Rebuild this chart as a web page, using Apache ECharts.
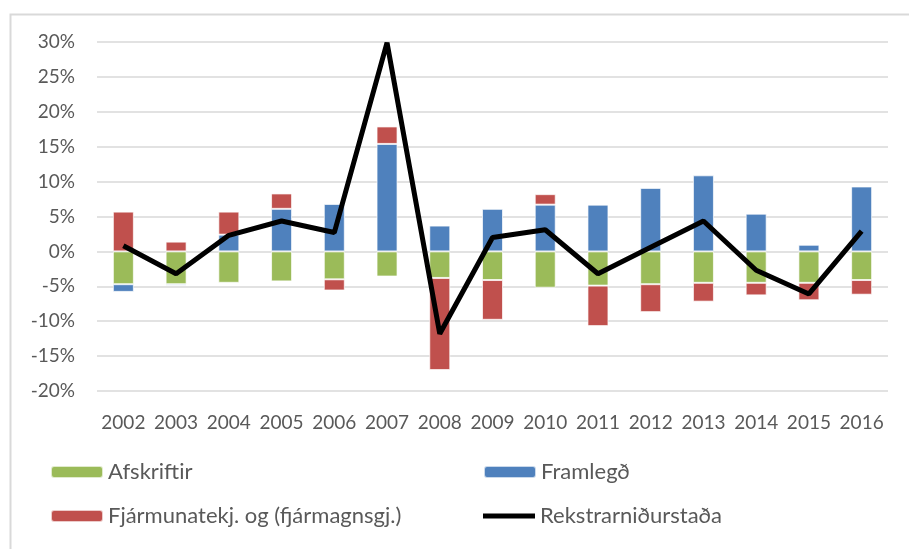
<!DOCTYPE html>
<html>
<head>
<meta charset="utf-8">
<script src="https://cdn.jsdelivr.net/npm/echarts@6/dist/echarts.min.js"></script>
<style>
  html, body { margin: 0; padding: 0; background: #fff; }
  #main { width: 909px; height: 549px; }
</style>
</head>
<body>
<div id="main"></div>
<script>
// data (percent)
var years = ['2002', '2003', '2004', '2005', '2006', '2007', '2008', '2009',
             '2010', '2011', '2012', '2013', '2014', '2015', '2016'];
var afskriftir = [-4.7, -4.7, -4.5, -4.3, -4.0, -3.6, -3.8, -4.1, -5.2, -4.9, -4.7, -4.5, -4.5, -4.5, -4.1];
var framlegd = [-1.1, -0.2, 2.4, 6.1, 6.8, 15.4, 3.7, 6.1, 6.7, 6.7, 9.1, 10.9, 5.4, 0.95, 9.3];
var fjarmuna = [5.7, 1.4, 3.3, 2.2, -1.6, 2.5, -13.2, -5.7, 1.5, -5.8, -4.0, -2.7, -1.8, -2.5, -2.1];
var rekstrar = [0.8, -3.2, 2.3, 4.35, 2.7, 29.9, -11.8, 2.0, 3.1, -3.2, 0.6, 4.35, -2.7, -6.1, 2.9];

var font = 'Lato';
var textColor = '#595959';

var myChart = echarts.init(document.getElementById('main'));

function legendAt(name, left, top, extra) {
    var l = {
        data: [name],
        left: left,
        top: top,
        padding: 0,
        itemWidth: 52,
        itemHeight: 12,
        itemGap: 0,
        textStyle: { color: textColor, fontFamily: font, fontSize: 22 },
        selectedMode: false
    };
    if (extra) { for (var k in extra) l[k] = extra[k]; }
    return l;
}

var barStyle = function (c) {
    return { color: c, borderColor: 'rgba(255,255,255,0.7)', borderWidth: 1 };
};

option = {
    backgroundColor: '#fff',
    animation: false,
    graphic: [{
        type: 'rect',
        left: 8, top: 12,
        shape: { width: 1000, height: 1000 },
        style: { fill: 'none', stroke: '#d9d9d9', lineWidth: 2 }
    }],
    grid: { left: 97, right: 21, top: 42, bottom: 158 },
    legend: [
        legendAt('Afskriftir', 50, 461),
        legendAt('Framlegð', 483, 461),
        legendAt('Fjármunatekj. og (fjármagnsgj.)', 50, 505),
        legendAt('Rekstrarniðurstaða', 483, 505, { icon: 'rect', itemHeight: 5 })
    ],
    xAxis: {
        type: 'category',
        data: years,
        axisLine: { show: false },
        axisTick: { show: false },
        axisLabel: { color: textColor, fontFamily: font, fontSize: 19, margin: 22, interval: 0 }
    },
    yAxis: {
        type: 'value',
        min: -20,
        max: 30,
        interval: 5,
        axisLabel: { formatter: '{value}%', color: textColor, fontFamily: font, fontSize: 19, margin: 22 },
        splitLine: { lineStyle: { color: '#d9d9d9', width: 1.5 } },
        axisLine: { show: false },
        axisTick: { show: false }
    },
    series: [
        { name: 'Afskriftir', type: 'bar', stack: 'a', barWidth: 21, data: afskriftir, itemStyle: barStyle('#9BBB59') },
        { name: 'Framlegð', type: 'bar', stack: 'a', barWidth: 21, data: framlegd, itemStyle: barStyle('#4F81BD') },
        { name: 'Fjármunatekj. og (fjármagnsgj.)', type: 'bar', stack: 'a', barWidth: 21, data: fjarmuna, itemStyle: barStyle('#C0504D') },
        {
            name: 'Rekstrarniðurstaða', type: 'line', data: rekstrar,
            symbol: 'none',
            lineStyle: { color: '#000', width: 5 },
            itemStyle: { color: '#000' },
            z: 5
        }
    ]
};

myChart.setOption(option);
</script>
</body>
</html>
